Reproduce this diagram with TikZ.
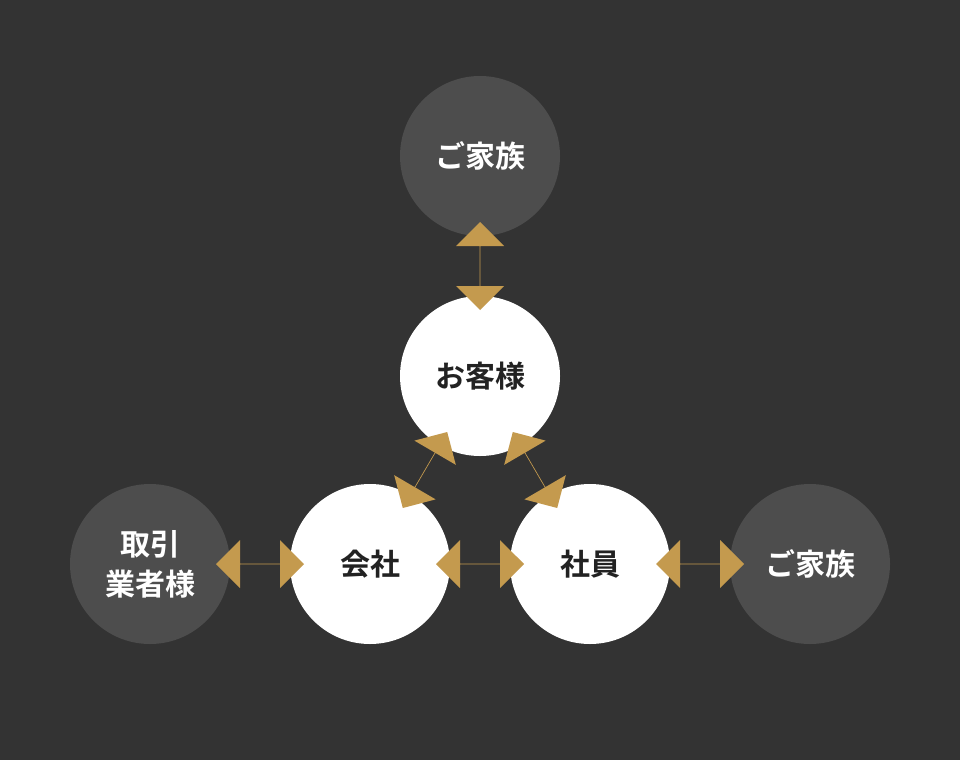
\documentclass[tikz,border=0pt]{standalone}
\usepackage{fontspec}
\setmainfont{Noto Sans CJK JP}[BoldFont={Noto Sans CJK JP Bold}]
\usetikzlibrary{shapes.arrows, calc}
\definecolor{bgdark}{HTML}{333333}
\definecolor{outer}{HTML}{4D4D4D}
\definecolor{gold}{HTML}{C49A4E}
\definecolor{ink}{HTML}{222222}

\begin{document}
\begin{tikzpicture}[
    x=1pt, y=-1pt,
    % Styles
    inner/.style={ % white circles
        circle,
        minimum size=160pt,
        fill=white,
        text=ink,
        font=\bfseries\fontsize{30}{40}\selectfont
    },
    outerc/.style={ % grey circles
        inner,
        fill=outer,
        text=white,
        align=center
    },
    link/.style={ % double arrow
        double arrow,
        fill=gold,
        minimum height=88pt,
        minimum width=48pt,
        double arrow head extend=14pt,
        inner sep=0pt
    }
]
    \fill[bgdark] (0,0) rectangle (960,760);

    % Circles
    \node[outerc] (famtop) at (480,156) {ご家族};
    \node[inner] (guest) at (480,376) {お客様};
    \node[inner] (company) at (370,564) {会社};
    \node[inner] (staff) at (590,564) {社員};
    \node[outerc] (vendor) at (150,564) {取引\\業者様};
    \node[outerc] (famright) at (810,564) {ご家族};

    % Arrows
    \node[link, rotate=90] at ($(famtop)!0.5!(guest)$) {};
    \node[link, rotate=59.7] at ($(company)!0.5!(guest)$) {};
    \node[link, rotate=-59.7] at ($(staff)!0.5!(guest)$) {};
    \node[link] at ($(vendor)!0.5!(company)$) {};
    \node[link] at ($(company)!0.5!(staff)$) {};
    \node[link] at ($(staff)!0.5!(famright)$) {};
\end{tikzpicture}
\end{document}
